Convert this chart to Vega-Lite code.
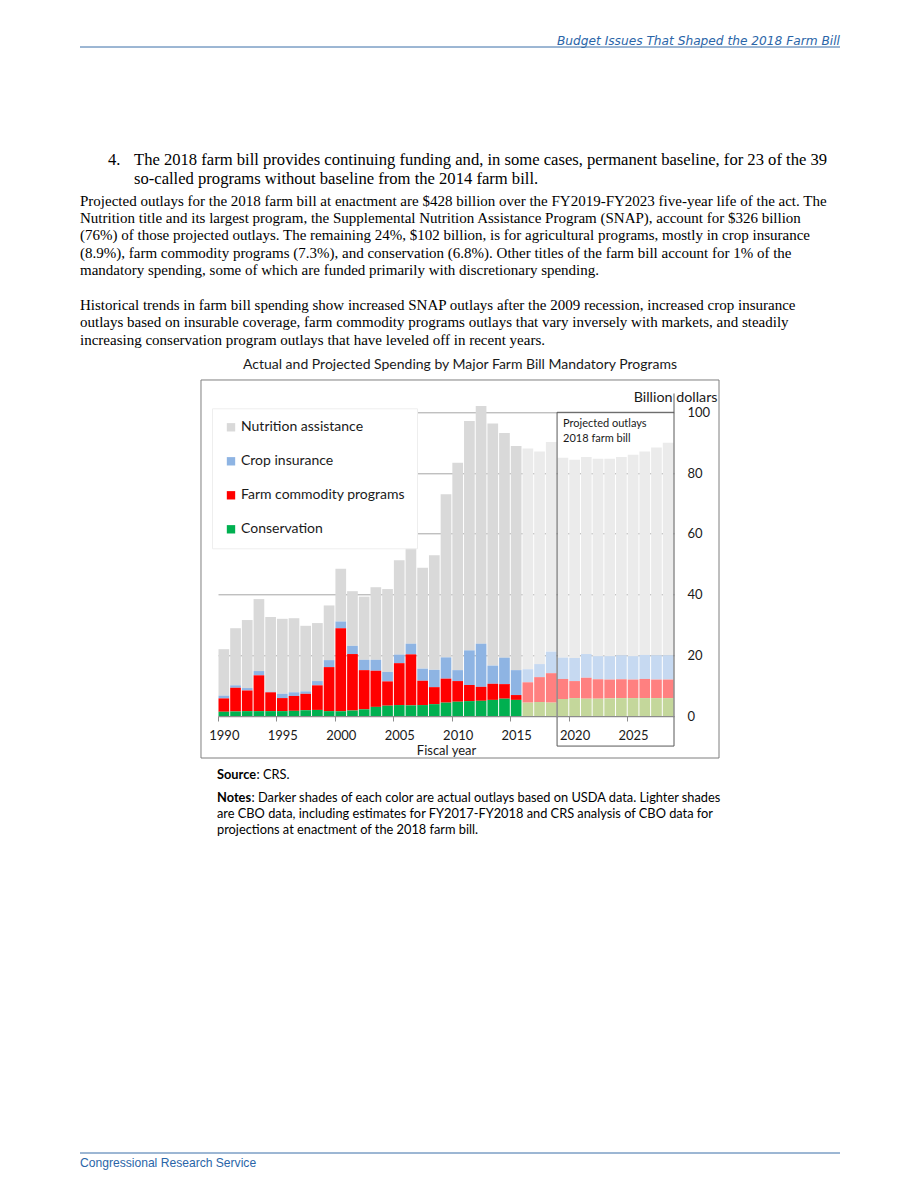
{
  "$schema": "https://vega.github.io/schema/vega-lite/v6.json",
  "width": 456,
  "height": 303.7,
  "autosize": {"type": "none"},
  "padding": {"left": 218, "top": 412.3, "right": 246, "bottom": 475},
  "background": "white",
  "config": {
    "view": {"stroke": null},
    "font": "Lato",
    "axisY": {"ticks": false, "tickSize": 0, "domain": false},
    "axisX": {"grid": false, "labelFlush": false, "domain": true, "ticks": true}
  },
  "datasets": {
    "programs": [
      {"program": "Conservation", "stack": 1},
      {"program": "Farm commodity programs", "stack": 2},
      {"program": "Crop insurance", "stack": 3},
      {"program": "Nutrition assistance", "stack": 4}
    ],
    "spend": [
      {"year": 1990, "status": "Actual", "Nutrition assistance": 15.3, "Crop insurance": 0.9, "Farm commodity programs": 4.4, "Conservation": 1.4},
      {"year": 1991, "status": "Actual", "Nutrition assistance": 18.8, "Crop insurance": 0.8, "Farm commodity programs": 7.8, "Conservation": 1.5},
      {"year": 1992, "status": "Actual", "Nutrition assistance": 22.4, "Crop insurance": 0.8, "Farm commodity programs": 6.8, "Conservation": 1.6},
      {"year": 1993, "status": "Actual", "Nutrition assistance": 23.7, "Crop insurance": 1.4, "Farm commodity programs": 11.8, "Conservation": 1.6},
      {"year": 1994, "status": "Actual", "Nutrition assistance": 24.6, "Crop insurance": 0.2, "Farm commodity programs": 6.2, "Conservation": 1.6},
      {"year": 1995, "status": "Actual", "Nutrition assistance": 24.7, "Crop insurance": 1.4, "Farm commodity programs": 4.3, "Conservation": 1.6},
      {"year": 1996, "status": "Actual", "Nutrition assistance": 24.4, "Crop insurance": 1.2, "Farm commodity programs": 4.9, "Conservation": 1.7},
      {"year": 1997, "status": "Actual", "Nutrition assistance": 21.6, "Crop insurance": 0.8, "Farm commodity programs": 5.4, "Conservation": 1.9},
      {"year": 1998, "status": "Actual", "Nutrition assistance": 19.1, "Crop insurance": 1.4, "Farm commodity programs": 8.1, "Conservation": 2.0},
      {"year": 1999, "status": "Actual", "Nutrition assistance": 18.0, "Crop insurance": 2.3, "Farm commodity programs": 14.5, "Conservation": 1.6},
      {"year": 2000, "status": "Actual", "Nutrition assistance": 17.4, "Crop insurance": 2.2, "Farm commodity programs": 27.3, "Conservation": 1.6},
      {"year": 2001, "status": "Actual", "Nutrition assistance": 18.0, "Crop insurance": 2.7, "Farm commodity programs": 18.6, "Conservation": 1.8},
      {"year": 2002, "status": "Actual", "Nutrition assistance": 20.8, "Crop insurance": 3.4, "Farm commodity programs": 12.9, "Conservation": 2.2},
      {"year": 2003, "status": "Actual", "Nutrition assistance": 23.9, "Crop insurance": 3.6, "Farm commodity programs": 11.9, "Conservation": 3.0},
      {"year": 2004, "status": "Actual", "Nutrition assistance": 27.3, "Crop insurance": 3.1, "Farm commodity programs": 8.0, "Conservation": 3.4},
      {"year": 2005, "status": "Actual", "Nutrition assistance": 31.1, "Crop insurance": 2.8, "Farm commodity programs": 13.8, "Conservation": 3.6},
      {"year": 2006, "status": "Actual", "Nutrition assistance": 31.9, "Crop insurance": 3.5, "Farm commodity programs": 16.8, "Conservation": 3.5},
      {"year": 2007, "status": "Actual", "Nutrition assistance": 33.2, "Crop insurance": 4.0, "Farm commodity programs": 8.0, "Conservation": 3.6},
      {"year": 2008, "status": "Actual", "Nutrition assistance": 37.7, "Crop insurance": 5.7, "Farm commodity programs": 5.6, "Conservation": 3.9},
      {"year": 2009, "status": "Actual", "Nutrition assistance": 53.7, "Crop insurance": 7.0, "Farm commodity programs": 7.9, "Conservation": 4.4},
      {"year": 2010, "status": "Actual", "Nutrition assistance": 68.3, "Crop insurance": 3.6, "Farm commodity programs": 6.8, "Conservation": 4.7},
      {"year": 2011, "status": "Actual", "Nutrition assistance": 75.5, "Crop insurance": 11.4, "Farm commodity programs": 5.3, "Conservation": 4.9},
      {"year": 2012, "status": "Actual", "Nutrition assistance": 78.3, "Crop insurance": 14.2, "Farm commodity programs": 4.6, "Conservation": 5.0},
      {"year": 2013, "status": "Actual", "Nutrition assistance": 79.7, "Crop insurance": 6.0, "Farm commodity programs": 5.3, "Conservation": 5.3},
      {"year": 2014, "status": "Actual", "Nutrition assistance": 74.0, "Crop insurance": 8.7, "Farm commodity programs": 4.8, "Conservation": 5.7},
      {"year": 2015, "status": "Actual", "Nutrition assistance": 73.8, "Crop insurance": 8.2, "Farm commodity programs": 1.6, "Conservation": 5.3},
      {"year": 2016, "status": "Projected", "Nutrition assistance": 72.7, "Crop insurance": 4.3, "Farm commodity programs": 6.7, "Conservation": 4.4},
      {"year": 2017, "status": "Projected", "Nutrition assistance": 70.0, "Crop insurance": 4.3, "Farm commodity programs": 8.2, "Conservation": 4.6},
      {"year": 2018, "status": "Projected", "Nutrition assistance": 69.0, "Crop insurance": 7.1, "Farm commodity programs": 9.7, "Conservation": 4.4},
      {"year": 2019, "status": "Projected", "Nutrition assistance": 65.8, "Crop insurance": 7.0, "Farm commodity programs": 6.6, "Conservation": 5.6},
      {"year": 2020, "status": "Projected", "Nutrition assistance": 65.3, "Crop insurance": 7.6, "Farm commodity programs": 5.6, "Conservation": 5.9},
      {"year": 2021, "status": "Projected", "Nutrition assistance": 64.9, "Crop insurance": 7.8, "Farm commodity programs": 6.9, "Conservation": 5.7},
      {"year": 2022, "status": "Projected", "Nutrition assistance": 65.0, "Crop insurance": 7.6, "Farm commodity programs": 6.4, "Conservation": 5.7},
      {"year": 2023, "status": "Projected", "Nutrition assistance": 65.0, "Crop insurance": 7.7, "Farm commodity programs": 6.2, "Conservation": 5.8},
      {"year": 2024, "status": "Projected", "Nutrition assistance": 65.3, "Crop insurance": 7.9, "Farm commodity programs": 6.2, "Conservation": 5.9},
      {"year": 2025, "status": "Projected", "Nutrition assistance": 66.3, "Crop insurance": 7.7, "Farm commodity programs": 6.1, "Conservation": 5.9},
      {"year": 2026, "status": "Projected", "Nutrition assistance": 67.0, "Crop insurance": 7.9, "Farm commodity programs": 6.3, "Conservation": 5.9},
      {"year": 2027, "status": "Projected", "Nutrition assistance": 68.4, "Crop insurance": 8.0, "Farm commodity programs": 6.1, "Conservation": 5.9},
      {"year": 2028, "status": "Projected", "Nutrition assistance": 70.0, "Crop insurance": 8.0, "Farm commodity programs": 6.1, "Conservation": 5.9}
    ]
  },
  "layer": [
    {
      "data": {"name": "spend"},
      "transform": [
        {"filter": "datum.status === 'Actual'"},
        {"fold": ["Nutrition assistance", "Crop insurance", "Farm commodity programs", "Conservation"], "as": ["program", "value"]},
        {"lookup": "program", "from": {"data": {"name": "programs"}, "key": "program", "fields": ["stack"]}}
      ],
      "mark": {"type": "bar", "size": 10.7},
      "encoding": {
        "x": {"field": "year", "type": "quantitative",
          "scale": {"domain": [1989.5, 2028.5], "nice": false, "zero": false, "padding": 0},
          "axis": {"values": [1989.5, 1994.5, 1999.5, 2004.5, 2009.5, 2014.5, 2019.5, 2024.5],
            "labelExpr": "format(datum.value + 0.5, 'd')", "labelOffset": 5.85, "labelFontSize": 13, "labelFlush": false,
            "labelColor": "#1a1a1a", "labelPadding": 8, "ticks": true, "tickSize": 5, "tickColor": "#8c8c8c", "tickWidth": 1,
            "domain": true, "domainColor": "#8c8c8c", "domainWidth": 1, "grid": false, "zindex": 1, "title": "Fiscal year", "titleFontSize": 13,
            "titleFontWeight": "normal", "titleColor": "#1a1a1a", "titlePadding": 2}},
        "y": {"field": "value", "type": "quantitative", "stack": "zero",
          "scale": {"domain": [0, 100], "nice": false, "padding": 0},
          "axis": {"orient": "right", "values": [0, 20, 40, 60, 80, 100], "grid": true, "gridColor": "#a6a6a6",
            "ticks": false, "tickSize": 0, "domain": false, "labelPadding": 13, "labelFontSize": 13, "labelColor": "#1a1a1a",
            "title": "Billion dollars", "titleAngle": 0, "titleX": 43, "titleY": -15.3, "titleAlign": "right",
            "titleBaseline": "middle", "titleFontWeight": "normal", "titleFontSize": 14.3, "titleColor": "#1a1a1a"}},
        "color": {"field": "program", "type": "nominal",
          "scale": {"domain": ["Nutrition assistance", "Crop insurance", "Farm commodity programs", "Conservation"],
            "range": ["#d9d9d9", "#8eb4e3", "#ff0000", "#00b050"]},
          "legend": {"orient": "none", "legendX": -6, "legendY": -4, "title": null, "symbolType": "square",
            "symbolSize": 70, "labelFontSize": 14, "labelLimit": 400, "labelColor": "#1a1a1a", "rowPadding": 20, "padding": 12,
            "fillColor": "white", "strokeColor": "#eeeeee", "symbolStrokeWidth": 0, "labelOffset": 3, "symbolOpacity": 1}},
        "order": {"field": "stack", "type": "quantitative", "sort": "ascending"}
      }
    },
    {
      "data": {"name": "spend"},
      "transform": [
        {"filter": "datum.status === 'Projected'"},
        {"fold": ["Nutrition assistance", "Crop insurance", "Farm commodity programs", "Conservation"], "as": ["program", "value"]},
        {"lookup": "program", "from": {"data": {"name": "programs"}, "key": "program", "fields": ["stack"]}}
      ],
      "mark": {"type": "bar", "size": 10.7},
      "encoding": {
        "x": {"field": "year", "type": "quantitative",
          "axis": {"values": [1989.5, 1994.5, 1999.5, 2004.5, 2009.5, 2014.5, 2019.5, 2024.5],
            "labelExpr": "format(datum.value + 0.5, 'd')", "labelOffset": 5.85, "labelFontSize": 13, "labelFlush": false,
            "labelColor": "#1a1a1a", "labelPadding": 8, "ticks": true, "tickSize": 5, "tickColor": "#8c8c8c", "tickWidth": 1,
            "domain": true, "domainColor": "#8c8c8c", "domainWidth": 1, "grid": false, "zindex": 1, "title": "Fiscal year", "titleFontSize": 13,
            "titleFontWeight": "normal", "titleColor": "#1a1a1a", "titlePadding": 2}},
        "y": {"field": "value", "type": "quantitative", "stack": "zero",
          "axis": {"orient": "right", "values": [0, 20, 40, 60, 80, 100], "grid": true, "gridColor": "#a6a6a6",
            "ticks": false, "tickSize": 0, "domain": false, "labelPadding": 13, "labelFontSize": 13, "labelColor": "#1a1a1a",
            "title": "Billion dollars", "titleAngle": 0, "titleX": 43, "titleY": -15.3, "titleAlign": "right",
            "titleBaseline": "middle", "titleFontWeight": "normal", "titleFontSize": 14.3, "titleColor": "#1a1a1a"}},
        "color": {"field": "program", "type": "nominal",
          "scale": {"domain": ["Nutrition assistance", "Crop insurance", "Farm commodity programs", "Conservation"],
            "range": ["#ebebeb", "#c6d9f1", "#ff8080", "#c4d79b"]},
          "legend": null},
        "order": {"field": "stack", "type": "quantitative", "sort": "ascending"}
      }
    },
    {
      "data": {"values": [{}]},
      "mark": {"type": "rect", "filled": false, "stroke": "#595959", "strokeWidth": 1},
      "encoding": {
        "x": {"datum": 2018.5, "type": "quantitative"}, "x2": {"datum": 2028.5},
        "y": {"datum": 100, "type": "quantitative"}, "y2": {"datum": -9.9}
      }
    },
    {
      "data": {"values": [{}]},
      "mark": {"type": "rule", "stroke": "#595959", "strokeWidth": 1},
      "encoding": {
        "x": {"datum": 2028.5, "type": "quantitative"},
        "y": {"datum": 100, "type": "quantitative"}, "y2": {"datum": 106.2}
      }
    },
    {
      "data": {"values": [{}]},
      "mark": {"type": "rect", "filled": false, "stroke": "#7f7f7f", "strokeWidth": 1},
      "encoding": {
        "x": {"datum": 1988.046, "type": "quantitative"}, "x2": {"datum": 2032.35},
        "y": {"datum": 110.64, "type": "quantitative"}, "y2": {"datum": -13.83}
      }
    },
    {
      "data": {"values": [{"t": ["Projected outlays", "2018 farm bill"]}]},
      "mark": {"type": "text", "align": "left", "baseline": "alphabetic", "dx": 6, "dy": 14.5, "fontSize": 11, "lineHeight": 15, "color": "#1a1a1a", "font": "Lato"},
      "encoding": {
        "x": {"datum": 2018.5, "type": "quantitative"},
        "y": {"datum": 100, "type": "quantitative"},
        "text": {"field": "t"}
      }
    },
    {
      "data": {"values": [{"t": "Actual and Projected Spending by Major Farm Bill Mandatory Programs"}]},
      "mark": {"type": "text", "x": 242, "y": -43.3, "align": "center", "baseline": "alphabetic", "fontSize": 14, "color": "#1a1a1a", "font": "Lato"},
      "encoding": {"text": {"field": "t"}}
    },
    {
      "data": {"values": [{"t": "Budget Issues That Shaped the 2018 Farm Bill"}]},
      "mark": {"type": "text", "x": 622, "y": -367.5, "align": "right", "baseline": "alphabetic", "fontSize": 12.2, "fontStyle": "italic", "color": "#2a65a8", "font": "DejaVu Sans"},
      "encoding": {"text": {"field": "t"}}
    },
    {
      "data": {"values": [{}]},
      "mark": {"type": "rule", "stroke": "#3a6ea8", "strokeWidth": 1},
      "encoding": {"x": {"value": -138}, "x2": {"value": 622}, "y": {"value": -365.3}}
    },
    {
      "data": {"values": [{}]},
      "mark": {"type": "rule", "stroke": "#3a6ea8", "strokeWidth": 1},
      "encoding": {"x": {"value": -138}, "x2": {"value": 622}, "y": {"value": 740.7}}
    },
    {
      "data": {"values": [{"t": "Congressional Research Service"}]},
      "mark": {"type": "text", "x": -138, "y": 754.7, "align": "left", "baseline": "alphabetic", "fontSize": 12.1, "color": "#2a65a8", "font": "Liberation Sans"},
      "encoding": {"text": {"field": "t"}}
    },
    {
      "data": {"values": [{"t": "4."}]},
      "mark": {"type": "text", "x": -110, "y": -247.3, "align": "left", "baseline": "alphabetic", "fontSize": 16.6, "color": "#000000", "font": "Liberation Serif"},
      "encoding": {"text": {"field": "t"}}
    },
    {
      "data": {"values": [{"t": ["The 2018 farm bill provides continuing funding and, in some cases, permanent baseline, for 23 of the 39", "so-called programs without baseline from the 2014 farm bill."]}]},
      "mark": {"type": "text", "x": -84, "y": -247.3, "align": "left", "baseline": "alphabetic", "fontSize": 16.6, "lineHeight": 19, "color": "#000000", "font": "Liberation Serif"},
      "encoding": {"text": {"field": "t"}}
    },
    {
      "data": {"values": [{"t": ["Projected outlays for the 2018 farm bill at enactment are $428 billion over the FY2019-FY2023 five-year life of the act. The", "Nutrition title and its largest program, the Supplemental Nutrition Assistance Program (SNAP), account for $326 billion", "(76%) of those projected outlays. The remaining 24%, $102 billion, is for agricultural programs, mostly in crop insurance", "(8.9%), farm commodity programs (7.3%), and conservation (6.8%). Other titles of the farm bill account for 1% of the", "mandatory spending, some of which are funded primarily with discretionary spending."]}]},
      "mark": {"type": "text", "x": -138, "y": -206.5, "align": "left", "baseline": "alphabetic", "fontSize": 15, "lineHeight": 17.3, "color": "#000000", "font": "Liberation Serif"},
      "encoding": {"text": {"field": "t"}}
    },
    {
      "data": {"values": [{"t": ["Historical trends in farm bill spending show increased SNAP outlays after the 2009 recession, increased crop insurance", "outlays based on insurable coverage, farm commodity programs outlays that vary inversely with markets, and steadily", "increasing conservation program outlays that have leveled off in recent years."]}]},
      "mark": {"type": "text", "x": -138, "y": -102.5, "align": "left", "baseline": "alphabetic", "fontSize": 15, "lineHeight": 17.4, "color": "#000000", "font": "Liberation Serif"},
      "encoding": {"text": {"field": "t"}}
    },
    {
      "data": {"values": [{"t": "Source"}]},
      "mark": {"type": "text", "x": -1, "y": 366.7, "align": "left", "baseline": "alphabetic", "fontSize": 12.8, "fontWeight": "bold", "color": "#000000", "font": "Lato"},
      "encoding": {"text": {"field": "t"}}
    },
    {
      "data": {"values": [{"t": ": CRS."}]},
      "mark": {"type": "text", "x": 38.5, "y": 366.7, "align": "left", "baseline": "alphabetic", "fontSize": 12.8, "color": "#000000", "font": "Lato"},
      "encoding": {"text": {"field": "t"}}
    },
    {
      "data": {"values": [{"t": "Notes"}]},
      "mark": {"type": "text", "x": -1, "y": 389.7, "align": "left", "baseline": "alphabetic", "fontSize": 12.8, "fontWeight": "bold", "color": "#000000", "font": "Lato"},
      "encoding": {"text": {"field": "t"}}
    },
    {
      "data": {"values": [{"t": ": Darker shades of each color are actual outlays based on USDA data. Lighter shades"}]},
      "mark": {"type": "text", "x": 33.5, "y": 389.7, "align": "left", "baseline": "alphabetic", "fontSize": 12.8, "color": "#000000", "font": "Lato"},
      "encoding": {"text": {"field": "t"}}
    },
    {
      "data": {"values": [{"t": ["are CBO data, including estimates for FY2017-FY2018 and CRS analysis of CBO data for", "projections at enactment of the 2018 farm bill."]}]},
      "mark": {"type": "text", "x": -1, "y": 405.7, "align": "left", "baseline": "alphabetic", "fontSize": 12.8, "lineHeight": 16, "color": "#000000", "font": "Lato"},
      "encoding": {"text": {"field": "t"}}
    }
  ],
  "resolve": {"scale": {"color": "independent"}, "legend": {"color": "independent"}}
}
